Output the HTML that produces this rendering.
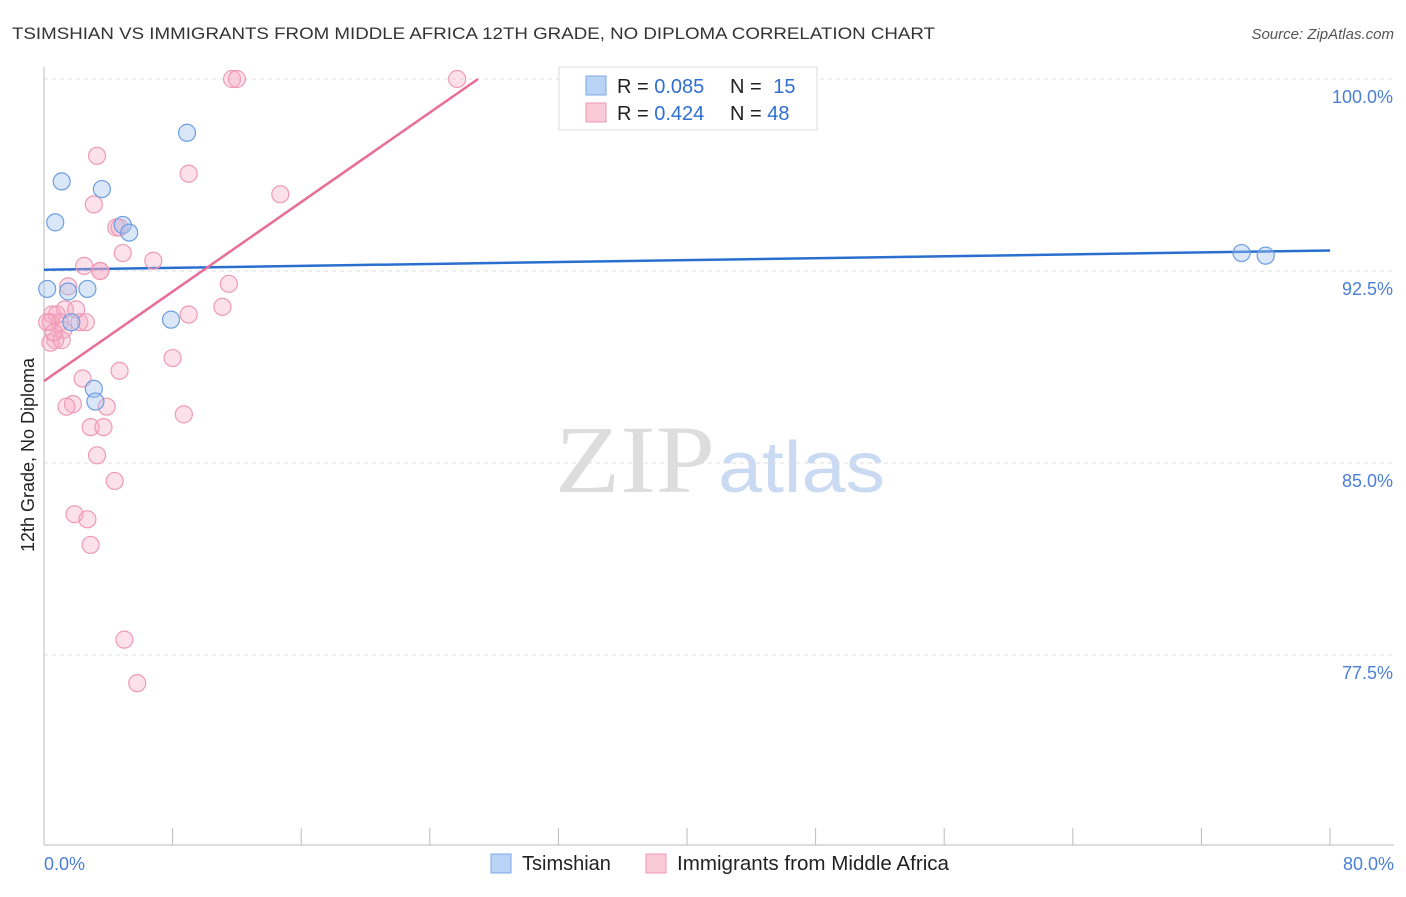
<!DOCTYPE html>
<html><head><meta charset="utf-8"><style>
body{margin:0;background:#fff;font-family:"Liberation Sans",sans-serif;}
svg text{font-family:"Liberation Sans",sans-serif;}
</style></head><body>
<svg width="1406" height="892">
<text x="12" y="39" font-size="17" fill="#333" textLength="923" lengthAdjust="spacingAndGlyphs">TSIMSHIAN VS IMMIGRANTS FROM MIDDLE AFRICA 12TH GRADE, NO DIPLOMA CORRELATION CHART</text>
<text x="1394" y="39" font-size="15" fill="#555" font-style="italic" text-anchor="end">Source: ZipAtlas.com</text>
<text x="555" y="492" font-size="96" fill="#ddd" textLength="160" lengthAdjust="spacingAndGlyphs" style="font-family:'Liberation Serif',serif">ZIP</text>
<text x="718" y="492" font-size="72" fill="#c9daf2" textLength="167" lengthAdjust="spacingAndGlyphs">atlas</text>
<g id="grid"></g>
<g id="axes"></g>
<g id="trend"></g>
<g id="pts"></g>
<text transform="translate(34,455) rotate(-90)" font-size="18" fill="#222" text-anchor="middle">12th Grade, No Diploma</text>
<text x="44" y="870" font-size="18" fill="#4a7fd4">0.0%</text>
<text x="1394" y="870" font-size="18" fill="#4a7fd4" text-anchor="end">80.0%</text>
<g>
<rect x="559" y="67" width="258" height="63" fill="#fff" stroke="#ddd"/>
<rect x="586" y="76" width="20" height="19" fill="#b9d3f5" stroke="#7aa7e6"/>
<rect x="586" y="103" width="20" height="19" fill="#fbcad8" stroke="#ee9ab4"/>
<text x="617" y="93" font-size="20" fill="#222">R = <tspan fill="#2f6fd0">0.085</tspan></text>
<text x="730" y="93" font-size="20" fill="#222">N = <tspan fill="#2f6fd0" dx="6">15</tspan></text>
<text x="617" y="120" font-size="20" fill="#222">R = <tspan fill="#2f6fd0">0.424</tspan></text>
<text x="730" y="120" font-size="20" fill="#222">N = <tspan fill="#2f6fd0">48</tspan></text>
</g>
<g>
<rect x="491" y="854" width="20" height="19" fill="#b9d3f5" stroke="#7aa7e6"/>
<text x="522" y="870" font-size="20" fill="#222">Tsimshian</text>
<rect x="646" y="854" width="20" height="19" fill="#fbcad8" stroke="#ee9ab4"/>
<text x="677" y="870" font-size="20" fill="#222" textLength="272" lengthAdjust="spacingAndGlyphs">Immigrants from Middle Africa</text>
</g>
</svg>
<script>
const yTicks=[100,92.5,85,77.5];
const yTickLabels=["100.0%","92.5%","85.0%","77.5%"];
const blueX=[0.2,1.1,0.7,3.6,4.9,5.3,8.9,1.5,2.7,1.7,7.9,3.1,3.2,74.5,76.0];
const blueY=[91.8,96.0,94.4,95.7,94.3,94.0,97.9,91.7,91.8,90.5,90.6,87.9,87.4,93.2,93.1];
const pinkX=[11.7,12.0,25.7,3.3,9.0,14.7,3.1,4.5,4.7,4.9,6.8,2.5,3.5,1.5,11.5,11.1,9.0,1.3,2.0,0.5,0.8,0.4,1.0,2.2,2.6,1.2,0.7,0.4,1.1,8.0,4.7,2.4,1.8,1.4,3.9,8.7,2.9,3.7,3.3,4.4,1.9,2.7,2.9,5.0,5.8,0.2,0.6,3.5];
const pinkY=[100,100,100,97.0,96.3,95.5,95.1,94.2,94.2,93.2,92.9,92.7,92.5,91.9,92.0,91.1,90.8,91.0,91.0,90.8,90.8,90.5,90.5,90.5,90.5,90.2,89.8,89.7,89.8,89.1,88.6,88.3,87.3,87.2,87.2,86.9,86.4,86.4,85.3,84.3,83.0,82.8,81.8,78.1,76.4,90.5,90.1,92.5];
const blueTrend=[92.55,93.3];
const pinkTrend=[88.2,100];
const pinkTrendEndX=[0,27];
const X0=44,X1=1330,Y100=79,PXPER=25.6;
const xs=v=>X0+(X1-X0)*v/80;
const ys=v=>Y100+(100-v)*PXPER;
const NS="http://www.w3.org/2000/svg";
function mk(t,a,p){const e=document.createElementNS(NS,t);for(const k in a)e.setAttribute(k,a[k]);p.appendChild(e);return e;}
const grid=document.getElementById('grid');
yTicks.forEach((t,i)=>{
 const l=mk('line',{x1:X0,x2:1394,y1:ys(t),y2:ys(t),stroke:'#ddd','stroke-dasharray':'4,4'},grid);
 
 
 const tx=mk('text',{x:1393,y:ys(t)+24,'font-size':18,fill:'#4a7fd4','text-anchor':'end'},grid);
 tx.textContent=yTickLabels[i];
 
 
});
const axes=document.getElementById('axes');
const ya=mk('line',{x1:X0,x2:X0,y1:67,y2:845,stroke:'#bbb'},axes);


const xa=mk('line',{x1:X0,x2:1394,y1:845,y2:845,stroke:'#bbb'},axes);


for(let i=0;i<=10;i++){const tk=mk('line',{x1:xs(i*8),x2:xs(i*8),y1:828,y2:845,stroke:'#bbb'},axes);
 
 }
const tr=document.getElementById('trend');
const bl=mk('line',{x1:xs(0),x2:xs(80),y1:ys(blueTrend[0]),y2:ys(blueTrend[1]),stroke:'#2a6fd0','stroke-width':2.5},tr);


const pl=mk('line',{x1:xs(pinkTrendEndX[0]),x2:xs(pinkTrendEndX[1]),y1:ys(pinkTrend[0]),y2:ys(pinkTrend[1]),stroke:'#e86d98','stroke-width':2.5},tr);


const pts=document.getElementById('pts');
pinkX.forEach((x,i)=>{const c=mk('circle',{cx:xs(x),cy:ys(pinkY[i]),r:8.5,fill:'rgba(246,170,195,0.35)',stroke:'#ee9ab4','stroke-width':1.2},pts);
 
 });
blueX.forEach((x,i)=>{const c=mk('circle',{cx:xs(x),cy:ys(blueY[i]),r:8.5,fill:'rgba(160,195,240,0.4)',stroke:'#6d9de0','stroke-width':1.2},pts);
 
 });
</script>
</body></html>
